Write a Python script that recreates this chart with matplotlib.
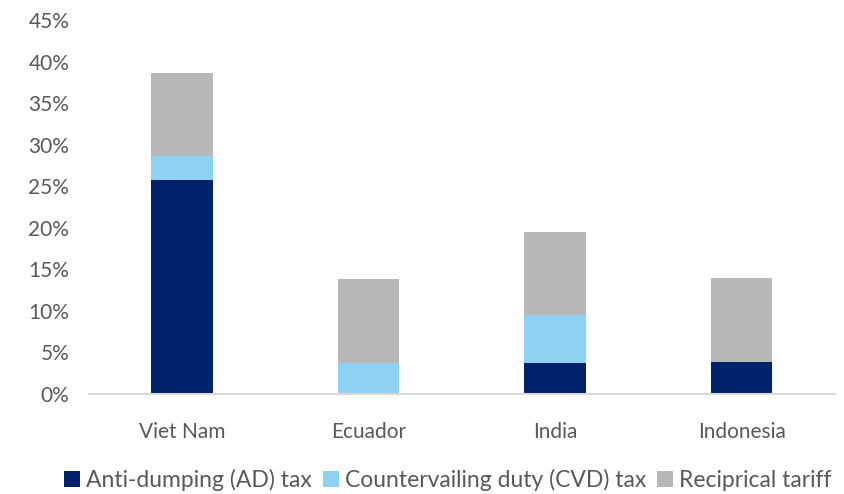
import matplotlib.pyplot as plt
from matplotlib.ticker import PercentFormatter

plt.rcParams['font.family'] = ['Lato', 'DejaVu Sans']

countries = ["Viet Nam", "Ecuador", "India", "Indonesia"]
ad_tax = [25.76, 0.0, 3.75, 3.9]
cvd_tax = [2.9, 3.78, 5.8, 0.0]
reciprocal = [10.0, 10.0, 10.0, 10.0]

labels = ["Anti-dumping (AD) tax", "Countervailing duty (CVD) tax", "Reciprical tariff"]
colors = ["#00226a", "#8dd1f3", "#b8b8b8"]

fig = plt.figure(figsize=(8.45, 4.94), dpi=100)
ax = fig.add_axes([0.105, 0.2024, 0.883, 0.7571])

x = range(len(countries))
width = 0.33
bottom2 = [a + c for a, c in zip(ad_tax, cvd_tax)]
ax.bar(x, ad_tax, width, color=colors[0], label=labels[0])
ax.bar(x, cvd_tax, width, bottom=ad_tax, color=colors[1], label=labels[1])
ax.bar(x, reciprocal, width, bottom=bottom2, color=colors[2], label=labels[2])

ax.set_xlim(-0.5, 3.5)
ax.set_ylim(0, 45)
ax.set_yticks(range(0, 50, 5))
ax.yaxis.set_major_formatter(PercentFormatter(decimals=0))
ax.set_xticks(list(x))
ax.set_xticklabels(countries)

for s in ["top", "right", "left"]:
    ax.spines[s].set_visible(False)
ax.spines["bottom"].set_color("#d9d9d9")
ax.spines["bottom"].set_linewidth(1.5)
ax.tick_params(axis="both", length=0, labelsize=15, labelcolor="#595959")
ax.tick_params(axis="x", pad=20)
ax.tick_params(axis="y", pad=14)

fig.legend(loc="lower center", bbox_to_anchor=(0.53, -0.035), ncol=3, frameon=False,
           fontsize=16.5, handlelength=0.7, handleheight=0.7, handletextpad=0.25,
           columnspacing=0.5, labelcolor="#595959")

fig.savefig("out.png", dpi=100)
